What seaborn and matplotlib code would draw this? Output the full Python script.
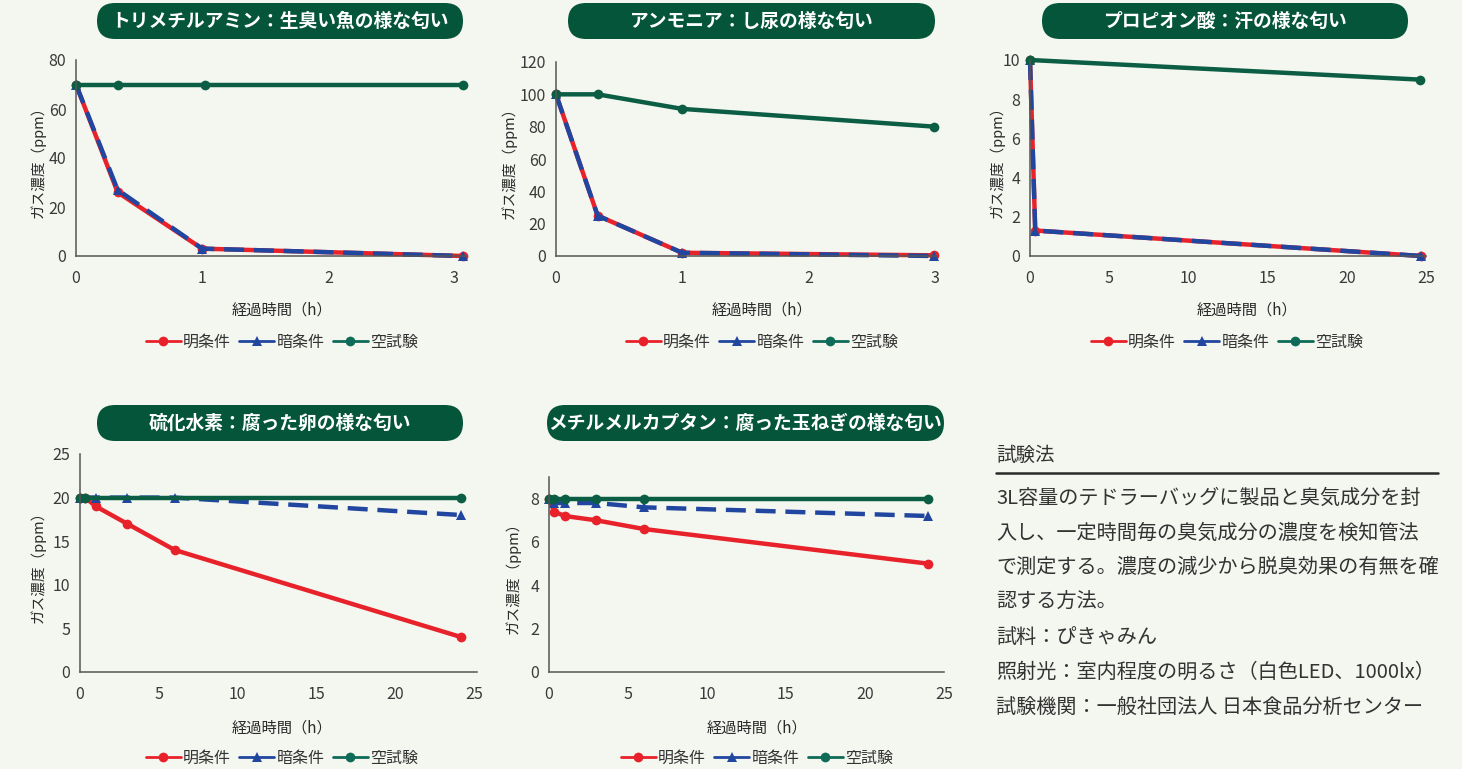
import matplotlib
matplotlib.use("Agg")
import matplotlib.pyplot as plt
from matplotlib.lines import Line2D
from matplotlib.patches import FancyBboxPatch
from matplotlib.transforms import IdentityTransform
import pandas as pd
import seaborn as sns

# ---- data ----
conditions = ["明条件", "暗条件", "空試験"]

# trimethylamine
tma_light_t = [0, 0.33, 1, 3.07]
tma_light = [70, 26, 3, 0]
tma_dark_t = [0, 0.33, 1, 3.07]
tma_dark = [70, 27, 3, 0]
tma_blank_t = [0, 0.33, 1.02, 3.07]
tma_blank = [70, 70, 70, 70]

# ammonia
nh3_light_t = [0, 0.33, 1, 3]
nh3_light = [100, 25, 2, 0.4]
nh3_dark_t = [0, 0.33, 1, 3]
nh3_dark = [100, 25, 2, 0]
nh3_blank_t = [0, 0.33, 1, 3]
nh3_blank = [100, 100, 91, 80]

# propionic acid
pa_light_t = [0, 0.33, 24.7]
pa_light = [10, 1.3, 0]
pa_dark_t = [0, 0.33, 24.7]
pa_dark = [10, 1.3, 0]
pa_blank_t = [0, 24.6]
pa_blank = [10, 9]

# hydrogen sulfide
h2s_light_t = [0, 0.33, 1, 3, 6, 24.2]
h2s_light = [20, 20, 19, 17, 14, 4]
h2s_dark_t = [0, 1, 3, 6, 24.2]
h2s_dark = [20, 20, 20, 20, 18]
h2s_blank_t = [0, 0.33, 24.2]
h2s_blank = [20, 20, 20]

# methyl mercaptan
mm_light_t = [0, 0.33, 1, 3, 6, 24]
mm_light = [8, 7.4, 7.2, 7.0, 6.6, 5.0]
mm_dark_t = [0, 0.33, 1, 3, 6, 24]
mm_dark = [8, 7.8, 7.8, 7.8, 7.6, 7.2]
mm_blank_t = [0, 0.33, 1, 3, 6, 24]
mm_blank = [8, 8, 8, 8, 8, 8]

titles = [
    "トリメチルアミン：生臭い魚の様な匂い",
    "アンモニア：し尿の様な匂い",
    "プロピオン酸：汗の様な匂い",
    "硫化水素：腐った卵の様な匂い",
    "メチルメルカプタン：腐った玉ねぎの様な匂い",
]
xlabel = "経過時間（h）"
ylabel = "ガス濃度（ppm）"

method_head = "試験法"
method_lines = [
    "3L容量のテドラーバッグに製品と臭気成分を封",
    "入し、一定時間毎の臭気成分の濃度を検知管法",
    "で測定する。濃度の減少から脱臭効果の有無を確",
    "認する方法。",
    "試料：ぴきゃみん",
    "照射光：室内程度の明るさ（白色LED、1000lx）",
    "試験機関：一般社団法人 日本食品分析センター",
]

# ---- style ----
W, H = 1462, 769
bg = "#F4F6F0"
red = "#E8222A"
blue = "#2146A0"
green = "#0B5E43"
green_leg = "#0E6B58"
title_green = "#04553A"
text_col = "#333333"

sns.set_style("white")
plt.rcParams["font.family"] = ["Noto Sans CJK JP", "DejaVu Sans"]

palette = {"明条件": red, "暗条件": blue, "空試験": green}
markers = {"明条件": "o", "暗条件": "^", "空試験": "o"}
dashes = {"明条件": "", "暗条件": (4.5, 2.2), "空試験": ""}

fig = plt.figure(figsize=(W / 100, H / 100), dpi=100, facecolor=bg)


def px_axes(left, top, right, bottom):
    return fig.add_axes([left / W, 1 - bottom / H, (right - left) / W, (bottom - top) / H])


def make_df(series):
    rows = []
    for cond, (t, v) in zip(conditions, series):
        for ti, vi in zip(t, v):
            rows.append({"time": ti, "ppm": vi, "cond": cond})
    return pd.DataFrame(rows)


panels = [
    dict(box=(76, 60, 467, 256), series=[(tma_light_t, tma_light), (tma_dark_t, tma_dark), (tma_blank_t, tma_blank)],
         xlim=(0, 3.1), xticks=[0, 1, 2, 3], ylim=(0, 80), yticks=range(0, 81, 20),
         tbox=(97, 3, 463, 39), leg=(282, 342), xlab=(282, 310), ylab=38),
    dict(box=(556, 62, 937, 256), series=[(nh3_light_t, nh3_light), (nh3_dark_t, nh3_dark), (nh3_blank_t, nh3_blank)],
         xlim=(0, 3.02), xticks=[0, 1, 2, 3], ylim=(0, 120), yticks=range(0, 121, 20),
         tbox=(568, 3, 935, 39), leg=(762, 342), xlab=(762, 310), ylab=509),
    dict(box=(1030, 60, 1426, 256), series=[(pa_light_t, pa_light), (pa_dark_t, pa_dark), (pa_blank_t, pa_blank)],
         xlim=(0, 25), xticks=range(0, 26, 5), ylim=(0, 10), yticks=range(0, 11, 2),
         tbox=(1042, 3, 1408, 39), leg=(1227, 342), xlab=(1247, 310), ylab=997),
    dict(box=(80, 454, 477, 672), series=[(h2s_light_t, h2s_light), (h2s_dark_t, h2s_dark), (h2s_blank_t, h2s_blank)],
         xlim=(0, 25.2), xticks=range(0, 26, 5), ylim=(0, 25), yticks=range(0, 26, 5),
         tbox=(97, 405, 463, 441), leg=(282, 758), xlab=(282, 728), ylab=38),
    dict(box=(549, 477, 944, 672), series=[(mm_light_t, mm_light), (mm_dark_t, mm_dark), (mm_blank_t, mm_blank)],
         xlim=(0, 25), xticks=range(0, 26, 5), ylim=(0, 9), yticks=range(0, 9, 2),
         tbox=(547, 405, 944, 441), leg=(757, 758), xlab=(757, 728), ylab=513),
]

leg_handles = [
    Line2D([], [], color=red, lw=2, marker="o", markersize=7, markeredgewidth=0),
    Line2D([], [], color=blue, lw=2, marker="^", markersize=7, markeredgewidth=0),
    Line2D([], [], color=green_leg, lw=2, marker="o", markersize=7, markeredgewidth=0),
]

for p, title in zip(panels, titles):
    left, top, right, bottom = p["box"]
    ax = px_axes(left, top, right, bottom)
    ax.set_facecolor("none")
    df = make_df(p["series"])
    sns.lineplot(data=df, x="time", y="ppm", hue="cond", style="cond", hue_order=conditions,
                 style_order=conditions, palette=palette, markers=markers, dashes=dashes,
                 estimator=None, sort=False, linewidth=3.2, markersize=7, markeredgewidth=0,
                 legend=False, ax=ax, clip_on=False)
    ax.set_xlim(*p["xlim"])
    ax.set_ylim(*p["ylim"])
    ax.set_xticks(list(p["xticks"]))
    ax.set_yticks(list(p["yticks"]))
    sns.despine(ax=ax)
    for s in ["left", "bottom"]:
        ax.spines[s].set_color("#555555")
        ax.spines[s].set_linewidth(1.1)
    ax.tick_params(length=0, labelsize=11.5, colors="#3a3a3a", pad=7)
    ax.tick_params(axis="x", pad=10)

    aw, ah = right - left, bottom - top
    ax.set_xlabel(xlabel, fontsize=11, color="#2a2a2a", va="center", ha="center")
    ax.xaxis.set_label_coords((p["xlab"][0] - left) / aw, -(p["xlab"][1] - bottom) / ah)
    ax.set_ylabel(ylabel, fontsize=10.5, color="#2a2a2a", va="center", ha="center")
    ax.yaxis.set_label_coords((p["ylab"] - left) / aw, 0.5)

    # title pill
    x0, y0, x1, y1 = p["tbox"]
    pill = FancyBboxPatch((x0, H - y1), x1 - x0, y1 - y0,
                          boxstyle="round,pad=0,rounding_size=18",
                          fc=title_green, ec="none", transform=IdentityTransform())
    fig.add_artist(pill)
    fig.text((x0 + x1) / 2 / W, 1 - (y0 + y1) / 2 / H, title, color="white",
             fontsize=13.5, fontweight="bold", ha="center", va="center")

    lx, ly = p["leg"]
    ax.legend(leg_handles, conditions, loc="center", bbox_to_anchor=(lx / W, 1 - ly / H),
              bbox_transform=fig.transFigure, ncol=3, frameon=False, fontsize=11.5,
              handlelength=2.2, handletextpad=0.15, columnspacing=0.5, labelcolor=text_col)

# test method block
fig.text(996 / W, 1 - 455 / H, method_head, fontsize=14, color=text_col, ha="left", va="center")
fig.add_artist(Line2D([996 / W, 1438 / W], [1 - 473 / H, 1 - 473 / H], color="#2a2a2a", lw=1.8,
                      transform=fig.transFigure))
line_y = [498, 533, 567, 602, 637, 672, 707]
for txt, yy in zip(method_lines, line_y):
    fig.text(996 / W, 1 - yy / H, txt, fontsize=14.5, color=text_col, ha="left", va="center")

fig.savefig("out.png", dpi=100, facecolor=bg)
